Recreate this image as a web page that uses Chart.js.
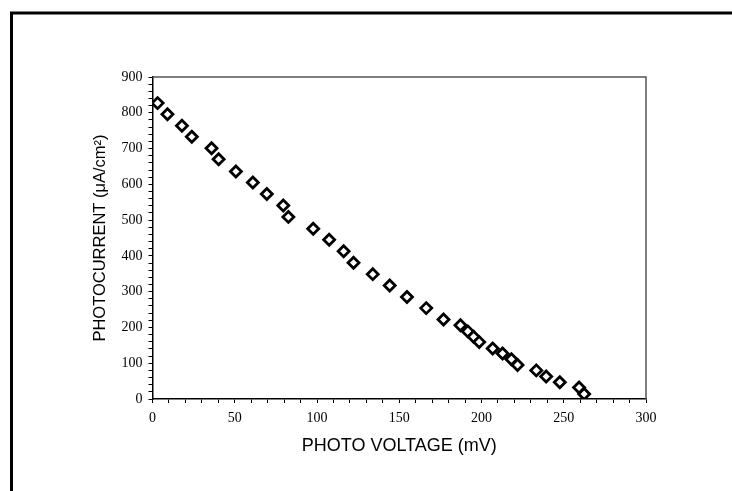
<!DOCTYPE html>
<html>
<head>
<meta charset="utf-8">
<script src="https://cdn.jsdelivr.net/npm/chart.js@4"></script>
<style>
  html, body { margin: 0; padding: 0; background: #fff; }
  #wrap { width: 732px; height: 491px; }
</style>
</head>
<body>
<div id="wrap"><canvas id="c" width="732" height="491"></canvas></div>
<script>
// Photo voltage (mV)
const voltage = [3.1, 9.1, 17.9, 23.9, 35.9, 40.2, 50.7, 61.0, 69.5, 79.5, 82.6,
  97.7, 107.4, 116.2, 122.2, 133.9, 144.2, 154.7, 166.4, 176.9, 187.2, 191.7,
  195.2, 198.6, 206.8, 212.8, 218.2, 221.9, 233.3, 239.3, 247.6, 259.3, 262.4];
// Photocurrent (µA/cm²)
const current = [827, 796, 764, 733, 701, 670, 636, 605, 573, 541, 509,
  476, 445, 413, 381, 349, 317, 285, 254, 222, 206, 189,
  174, 159, 141, 127, 111, 95, 80, 63, 47, 32, 14];

const xTitle = 'PHOTO VOLTAGE (mV)';
const yTitle = 'PHOTOCURRENT (\u03BCA/cm\u00B2)';
const xRange = [0, 300], xMinorStep = 10, xMajorStep = 50;
const yRange = [0, 900], yMinorStep = 20, yMajorStep = 100;

const points = voltage.map((v, i) => ({ x: v, y: current[i] }));

const framePlugin = {
  id: 'frame',
  beforeDraw(chart) {
    const ctx = chart.ctx;
    ctx.save();
    ctx.strokeStyle = '#000';
    ctx.lineWidth = 3;
    ctx.beginPath();
    ctx.moveTo(11.5, 491);
    ctx.lineTo(11.5, 13);
    ctx.lineTo(732, 13);
    ctx.stroke();
    ctx.restore();
  },
  afterDatasetsDraw(chart) {
    const { ctx, chartArea: a } = chart;
    ctx.save();
    ctx.strokeStyle = '#555';
    ctx.lineWidth = 1.5;
    ctx.beginPath();
    ctx.moveTo(a.left, a.top);
    ctx.lineTo(a.right, a.top);
    ctx.lineTo(a.right, a.bottom);
    ctx.stroke();
    ctx.restore();
  }
};

new Chart(document.getElementById('c'), {
  type: 'scatter',
  data: {
    datasets: [{
      data: points,
      pointStyle: 'rectRot',
      pointRadius: 5.5,
      pointBorderWidth: 2.8,
      borderColor: '#000',
      backgroundColor: '#fff',
      pointBackgroundColor: '#fff',
      pointBorderColor: '#000'
    }]
  },
  options: {
    responsive: false,
    animation: false,
    devicePixelRatio: 1,
    layout: { padding: { left: 0, top: 77, right: 86, bottom: 0 } },
    plugins: { legend: { display: false }, tooltip: { enabled: false } },
    scales: {
      x: {
        type: 'linear',
        min: xRange[0], max: xRange[1],
        afterFit(s) { s.height = 92; },
        ticks: {
          stepSize: xMinorStep,
          autoSkip: false,
          maxRotation: 0,
          padding: 7,
          color: '#000',
          font: { family: 'Liberation Serif', size: 14 },
          callback: v => (v % xMajorStep === 0 ? String(v) : '')
        },
        grid: { drawOnChartArea: false, drawTicks: true, tickLength: 4, color: '#000', tickWidth: 1 },
        border: { display: true, color: '#000', width: 1.5 },
        title: {
          display: true, text: xTitle, color: '#000',
          font: { family: 'Liberation Sans', size: 18, lineHeight: 1.2 },
          padding: { top: 0, bottom: 34 }
        }
      },
      y: {
        type: 'linear',
        min: yRange[0], max: yRange[1],
        afterFit(s) { s.width = 152.5; },
        ticks: {
          stepSize: yMinorStep,
          autoSkip: false,
          padding: 6,
          color: '#000',
          font: { family: 'Liberation Serif', size: 14 },
          callback: v => (v % yMajorStep === 0 ? String(v) : '')
        },
        grid: { drawOnChartArea: false, drawTicks: true, tickLength: 4, color: '#000', tickWidth: 1 },
        border: { display: true, color: '#000', width: 1.5 },
        title: {
          display: true, text: yTitle, color: '#000',
          font: { family: 'Liberation Sans', size: 16.5, lineHeight: 1.2 },
          padding: { top: 91, bottom: 0 }
        }
      }
    }
  },
  plugins: [framePlugin]
});
</script>
</body>
</html>
